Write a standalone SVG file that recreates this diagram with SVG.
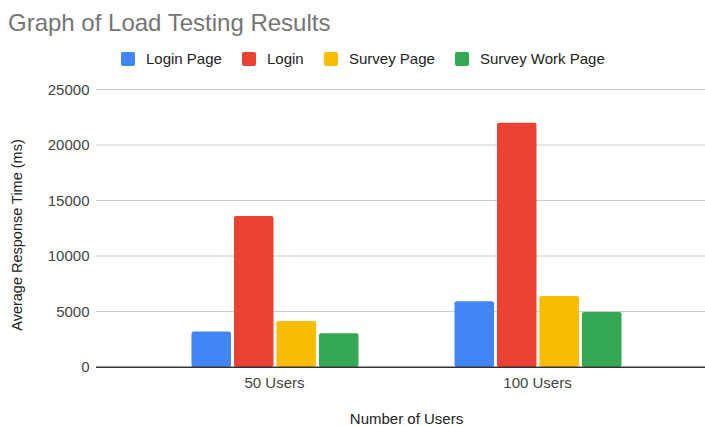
<svg xmlns="http://www.w3.org/2000/svg" width="705" height="426" viewBox="0 0 705 426">
<style>
text{font-family:"Liberation Sans",Arial,sans-serif;}
.title{font-size:24px;fill:#757575;}
.leg{font-size:15px;fill:#222;}
.ylab{font-size:15px;fill:#444;text-anchor:end;}
.xlab{font-size:15px;fill:#444;text-anchor:middle;}
.atitle{font-size:14.5px;fill:#222;text-anchor:middle;}
.grid{stroke:#cccccc;stroke-width:1;}
.axis{stroke:#333;stroke-width:1.5;}
.b{fill:#4285F4;}.r{fill:#EA4335;}.y{fill:#FBBC04;}.g{fill:#34A853;}
</style>
<rect width="705" height="426" fill="#fff"/>
<text id="title" class="title" x="8" y="31">Graph of Load Testing Results</text>
<g id="legend">
<rect class="b" x="121" y="52" width="14" height="14" rx="2"/><text class="leg" x="146" y="64">Login Page</text>
<rect class="r" x="242" y="52" width="14" height="14" rx="2"/><text class="leg" x="267" y="64">Login</text>
<rect class="y" x="324" y="52" width="14" height="14" rx="2"/><text class="leg" x="349" y="64">Survey Page</text>
<rect class="g" x="455" y="52" width="14" height="14" rx="2"/><text class="leg" x="480" y="64">Survey Work Page</text>
</g>
<g id="gridlines">
<line class="grid" x1="96" y1="89.5" x2="705" y2="89.5"/>
<line class="grid" x1="96" y1="145" x2="705" y2="145"/>
<line class="grid" x1="96" y1="200.5" x2="705" y2="200.5"/>
<line class="grid" x1="96" y1="256" x2="705" y2="256"/>
<line class="grid" x1="96" y1="311.5" x2="705" y2="311.5"/>
</g>
<g id="yaxis-labels">
<text class="ylab" x="89.5" y="94.5">25000</text>
<text class="ylab" x="89.5" y="150">20000</text>
<text class="ylab" x="89.5" y="205.5">15000</text>
<text class="ylab" x="89.5" y="261">10000</text>
<text class="ylab" x="89.5" y="316.5">5000</text>
<text class="ylab" x="89.5" y="372">0</text>
</g>
<g id="group-50">
<rect class="b" x="191.5" y="331.5" width="39.5" height="35.5" rx="2"/>
<rect class="r" x="234" y="216" width="39.5" height="151" rx="2"/>
<rect class="y" x="276.5" y="321" width="39.5" height="46" rx="2"/>
<rect class="g" x="319" y="333.3" width="39.5" height="33.7" rx="2"/>
</g>
<g id="group-100">
<rect class="b" x="454.5" y="301.3" width="39.5" height="65.7" rx="2"/>
<rect class="r" x="497" y="122.7" width="39.5" height="244.3" rx="2"/>
<rect class="y" x="539.5" y="296" width="39.5" height="71" rx="2"/>
<rect class="g" x="582" y="312" width="39.5" height="55" rx="2"/>
</g>
<line id="baseline" class="axis" x1="96" y1="367.2" x2="705" y2="367.2"/>
<g id="xaxis-labels">
<text class="xlab" x="274.5" y="387.5">50 Users</text>
<text class="xlab" x="537.5" y="387.5">100 Users</text>
</g>
<text id="xtitle" class="atitle" x="406.5" y="424" style="font-size:15px">Number of Users</text>
<text id="ytitle" class="atitle" transform="translate(22,235) rotate(-90)">Average Response Time (ms)</text>
</svg>
